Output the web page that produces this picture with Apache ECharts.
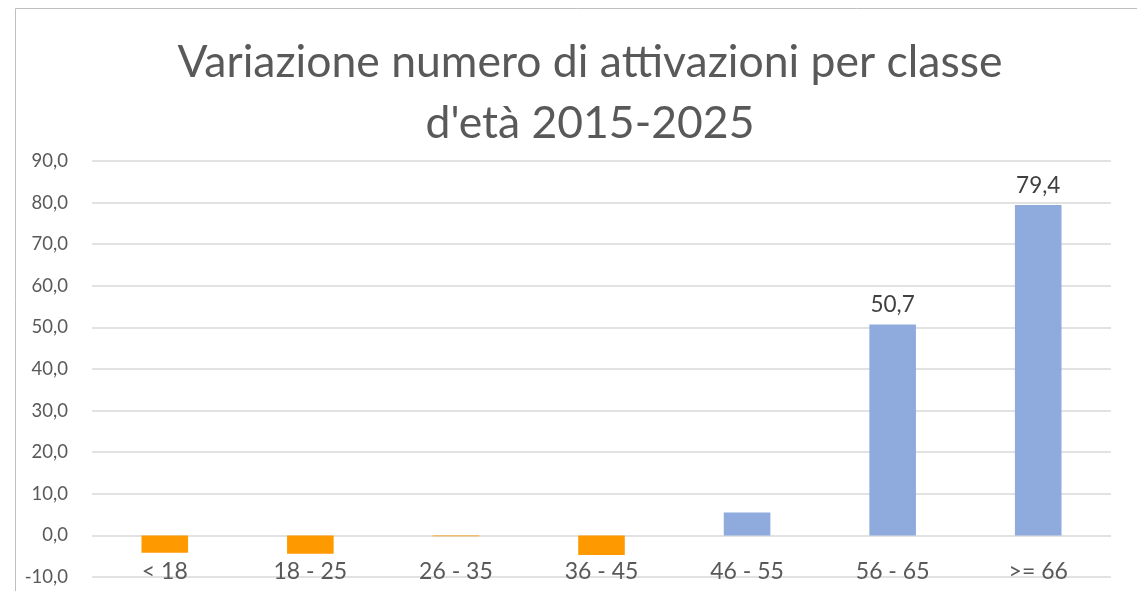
<!DOCTYPE html>
<html>
<head>
<meta charset="utf-8">
<script src="https://cdn.jsdelivr.net/npm/echarts@6/dist/echarts.min.js"></script>
<style>
  html, body { margin: 0; padding: 0; background: #fff; }
  #chart { width: 1137px; height: 591px; }
</style>
</head>
<body>
<div id="chart"></div>
<script>
// classi d'età e variazione % 2015-2025
var categories = ['< 18', '18 - 25', '26 - 35', '36 - 45', '46 - 55', '56 - 65', '>= 66'];
var variazione = [-4.2, -4.4, -0.2, -4.7, 5.5, 50.7, 79.4];
var showLabel = [false, false, false, false, false, true, true];
var yTicks = [-10, 0, 10, 20, 30, 40, 50, 60, 70, 80, 90];

var chart = echarts.init(document.getElementById('chart'));

function fmt(v) {
    return v.toFixed(1).replace('.', ',');
}

var barData = variazione.map(function (v, i) {
    return {
        value: v,
        itemStyle: { color: v < 0 ? '#FF9900' : '#8FAADC' },
        label: { show: showLabel[i] }
    };
});

var option = {
    animation: false,
    textStyle: { fontFamily: 'Lato' },
    title: {
        text: "Variazione numero di attivazioni per classe\nd'età 2015-2025",
        left: 585,
        textAlign: 'center',
        top: 27,
        textStyle: {
            fontFamily: 'Lato',
            fontSize: 44.5,
            fontWeight: 'normal',
            color: '#595959',
            lineHeight: 61
        }
    },
    graphic: [{
        type: 'polyline',
        shape: { points: [[15.5, 600], [15.5, 8.5], [1137, 8.5]] },
        style: { stroke: '#BFBFBF', lineWidth: 1, fill: null }
    }],
    grid: { left: 92, right: 26, top: 161, bottom: 14 },
    xAxis: {
        type: 'category',
        data: categories,
        axisLine: { show: false },
        axisTick: { show: false },
        axisLabel: {
            margin: -17,
            fontSize: 23,
            color: '#595959',
            verticalAlign: 'top'
        }
    },
    yAxis: {
        type: 'value',
        min: yTicks[0],
        max: yTicks[yTicks.length - 1],
        interval: 10,
        axisLine: { show: false },
        axisTick: { show: false },
        splitLine: { lineStyle: { color: '#D9D9D9', width: 1.5 } },
        axisLabel: {
            fontSize: 18.5,
            color: '#595959',
            margin: 24,
            formatter: fmt
        }
    },
    series: [{
        type: 'bar',
        data: barData,
        barWidth: '32%',
        label: {
            position: 'top',
            distance: 8,
            fontSize: 22.5,
            color: '#404040',
            formatter: function (p) { return fmt(p.value); }
        }
    }]
};

chart.setOption(option);
</script>
</body>
</html>
